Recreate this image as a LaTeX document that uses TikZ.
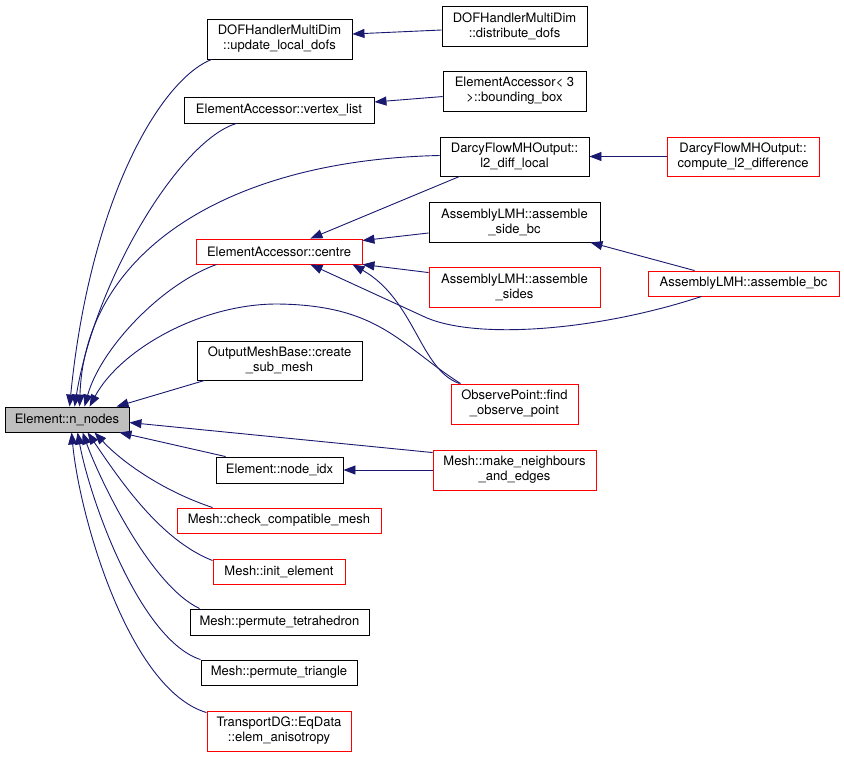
\documentclass[tikz,border=0pt]{standalone}
\usepackage{fontspec}
\setmainfont{TeX Gyre Heros}
\usetikzlibrary{arrows.meta,calc}
\definecolor{edgec}{HTML}{191970}
\definecolor{redb}{HTML}{FF0000}
\definecolor{grayf}{HTML}{BFBFBF}
\tikzset{
  box/.style={draw=black, line width=0.9pt, inner sep=0pt, align=center,
    font=\fontsize{13}{15}\selectfont, text=black},
  rbox/.style={box, draw=redb},
  call/.style={draw=edgec, line width=0.9pt, -{Triangle[length=12pt,width=9pt]}},
}
\begin{document}
\begin{tikzpicture}[x=1pt,y=-1pt]
\useasboundingbox[fill=white] (0,0) rectangle (844,757);
% left main node
\node[box, fill=grayf, minimum width=124pt, minimum height=25pt] (nn) at (67,419.5) {Element::n\_nodes};
% middle column
\node[box, minimum width=145pt, minimum height=40pt] (upd) at (279.5,39) {DOFHandlerMultiDim\\::update\_local\_dofs};
\node[box, minimum width=190pt, minimum height=26pt] (vtx) at (279,110) {ElementAccessor::vertex\_list};
\node[rbox, minimum width=166pt, minimum height=25pt] (ctr) at (279,251.5) {ElementAccessor::centre};
\node[box, minimum width=165pt, minimum height=39pt] (csm) at (279.5,360.5) {OutputMeshBase::create\\\_sub\_mesh};
\node[box, minimum width=127pt, minimum height=26pt] (nidx) at (279.5,470) {Element::node\_idx};
\node[rbox, minimum width=204pt, minimum height=25pt] (ccm) at (279,520.5) {Mesh::check\_compatible\_mesh};
\node[rbox, minimum width=132pt, minimum height=25pt] (ie) at (279,571.5) {Mesh::init\_element};
\node[box, minimum width=179pt, minimum height=26pt] (pt) at (279.5,622) {Mesh::permute\_tetrahedron};
\node[box, minimum width=156pt, minimum height=25pt] (ptr) at (279,672.5) {Mesh::permute\_triangle};
\node[rbox, minimum width=144pt, minimum height=40pt] (ea) at (279,731) {TransportDG::EqData\\::elem\_anisotropy};
% right columns
\node[box, minimum width=145pt, minimum height=40pt] (dd) at (514.5,26) {DOFHandlerMultiDim\\::distribute\_dofs};
\node[box, minimum width=143pt, minimum height=40pt] (bb) at (514.5,91) {ElementAccessor< 3\\>::bounding\_box};
\node[box, minimum width=149pt, minimum height=39pt] (l2) at (514.5,156.5) {DarcyFlowMHOutput::\\l2\_diff\_local};
\node[rbox, minimum width=152pt, minimum height=39pt] (cl2) at (743,156.5) {DarcyFlowMHOutput::\\compute\_l2\_difference};
\node[box, minimum width=171pt, minimum height=40pt] (asbc) at (514.5,222) {AssemblyLMH::assemble\\\_side\_bc};
\node[rbox, minimum width=171pt, minimum height=40pt] (asd) at (514.5,287) {AssemblyLMH::assemble\\\_sides};
\node[rbox, minimum width=191pt, minimum height=25pt] (abc) at (743.5,283.5) {AssemblyLMH::assemble\_bc};
\node[rbox, minimum width=127pt, minimum height=40pt] (obs) at (514.5,404) {ObservePoint::find\\\_observe\_point};
\node[rbox, minimum width=163pt, minimum height=40pt] (mn) at (514.5,470) {Mesh::make\_neighbours\\\_and\_edges};
\coordinate (bendA) at (427,318);
\coordinate (bendB) at (277,304);
% edges into n_nodes (top)
\draw[call] ($(upd.south west)+(5,0)$) .. controls (160,80) and (90,200) .. ($(nn.north west)+(65,0)$);
\draw[call] ($(vtx.south west)+(53,0)$) .. controls (180,140) and (95,280) .. ($(nn.north west)+(70,0)$);
\draw[call] ($(l2.west)+(0,-1)$) .. controls (230,160) and (85,250) .. ($(nn.north west)+(75,0)$);
\draw[call] ($(ctr.south west)+(21,0)$) .. controls (160,285) and (100,350) .. ($(nn.north west)+(80,0)$);
\draw[call] ($(obs.north west)+(10,0)$) .. controls (400,345) and (380,305) .. (bendB) .. controls (200,304) and (120,350) .. ($(nn.north west)+(85,0)$);
\draw[call] ($(csm.south west)+(8,0)$) -- ($(nn.north west)+(112,0)$);
% edges into n_nodes (right/bottom)
\draw[call] ($(mn.north west)+(0,3)$) -- ($(nn.north east)+(0,16)$);
\draw[call] ($(nidx.north west)+(10,0)$) -- ($(nn.south east)+(-10,0)$);
\draw[call] ($(ccm.north west)+(36,0)$) .. controls (160,490) and (120,460) .. ($(nn.south west)+(90,0)$);
\draw[call] ($(ie.north west)+(0,2)$) .. controls (160,540) and (120,480) .. ($(nn.south west)+(83,0)$);
\draw[call] ($(pt.north west)+(10,0)$) .. controls (150,585) and (100,480) .. ($(nn.south west)+(78,0)$);
\draw[call] (ptr.north west) .. controls (140,640) and (90,500) .. ($(nn.south west)+(73,0)$);
\draw[call] ($(ea.north west)+(0,2)$) .. controls (130,690) and (80,520) .. ($(nn.south west)+(67,0)$);
% edges into centre
\draw[call] ($(l2.south west)+(20,0)$) -- ($(ctr.north east)+(-52,0)$);
\draw[call] ($(asbc.west)+(0,11)$) -- ($(ctr.north east)+(0,2)$);
\draw[call] ($(asd.north west)+(0,6)$) -- (ctr.south east);
\draw[call] ($(abc.south west)+(54,0)$) .. controls (600,330) and (480,340) .. (bendA) -- ($(ctr.south east)+(-52,0)$);
\draw[call] ($(obs.north west)+(9,0)$) .. controls (420,370) and (415,300) .. ($(ctr.south east)+(-10,0)$);
% other edges
\draw[call] ($(dd.west)+(0,4)$) -- ($(upd.east)+(0,-5)$);
\draw[call] ($(bb.north west)+(0,26)$) -- ($(vtx.east)+(0,-8)$);
\draw[call] (cl2.west) -- (l2.east);
\draw[call] ($(abc.north west)+(47,0)$) -- ($(asbc.south east)+(-10,0)$);
\draw[call] (mn.west) -- (nidx.east);
\end{tikzpicture}
\end{document}
